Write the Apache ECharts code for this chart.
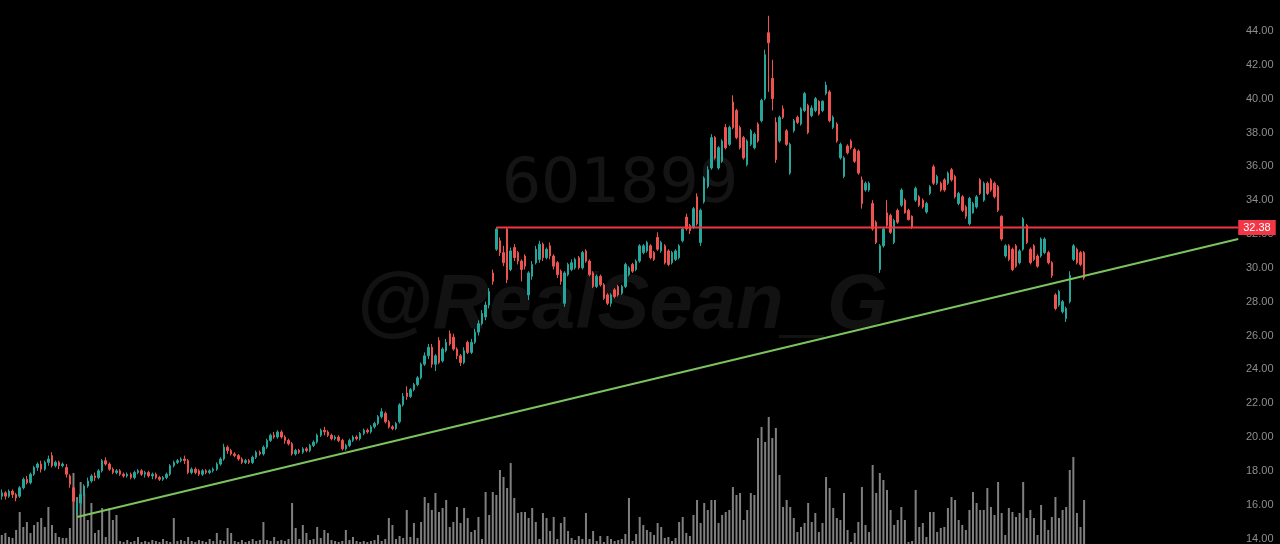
<!DOCTYPE html>
<html>
<head>
<meta charset="utf-8">
<script src="https://cdn.jsdelivr.net/npm/echarts@6/dist/echarts.min.js"></script>
<style>
html,body{margin:0;padding:0;background:#000;}
#c{width:1280px;height:544px;}
</style>
</head>
<body>
<div id="c"></div>
<script>
// ---- Data (601899 daily candles) ----
const opens = [
16.5,16.7,16.5,16.8,16.6,16.5,17.0,17.5,17.3,17.8,
18.2,18.4,18.1,18.5,18.9,18.3,18.5,18.3,18.2,17.7,
17.0,15.6,16.1,16.6,17.1,17.4,17.7,17.6,18.0,18.6,
18.4,18.1,17.9,18.0,17.8,17.7,17.8,17.6,17.9,18.0,
17.8,17.9,17.7,17.8,17.6,17.5,17.6,17.8,18.3,18.5,
18.6,18.7,18.6,17.9,18.1,18.0,17.8,18.0,17.9,18.0,
18.1,18.4,18.7,19.4,19.2,19.0,18.9,18.7,18.5,18.6,
18.5,18.8,19.1,19.0,19.4,19.8,20.1,20.0,20.3,20.0,
19.8,19.6,19.0,19.2,19.1,19.3,19.2,19.5,19.7,20.1,
20.4,20.3,20.1,19.9,20.0,19.8,19.3,19.5,19.8,20.0,
19.9,20.2,20.4,20.3,20.6,20.8,21.2,21.4,20.9,20.6,
20.5,20.9,21.9,22.6,22.4,22.8,23.1,23.5,24.3,24.8,
25.3,24.3,25.7,24.5,25.1,26.1,25.9,25.2,24.8,24.4,
25.6,25.0,25.6,26.2,26.7,27.1,27.8,29.7,31.1,31.6,
30.9,32.3,29.9,31.2,30.9,30.4,30.7,28.4,29.5,30.3,
30.5,31.4,30.6,31.3,30.7,30.3,29.8,27.9,29.6,29.9,
30.0,30.6,30.0,31.0,30.4,29.7,28.9,29.5,29.0,28.4,
27.9,28.7,28.9,28.5,28.9,29.6,30.2,29.9,30.4,30.9,
31.0,31.3,30.9,31.8,31.0,31.3,31.0,30.3,30.5,30.6,
31.6,33.0,32.5,32.4,34.2,31.5,33.9,34.8,35.9,37.7,
35.9,36.3,38.3,37.3,39.8,39.3,38.3,37.7,36.1,37.3,
37.1,38.5,38.7,40.0,43.9,41.2,38.6,37.5,39.4,38.1,
35.6,38.1,38.9,38.5,39.3,39.6,39.0,39.3,39.85,39.3,
40.3,40.4,38.3,38.5,36.5,35.4,37.2,37.5,37.0,36.9,
35.2,34.6,34.6,33.8,32.7,29.9,31.3,33.25,33.1,31.5,
33.4,33.7,34.0,33.4,33.05,34.0,34.2,34.0,33.3,34.4,
35.97,35.0,35.0,35.2,35.0,35.8,35.4,33.8,34.2,33.6,
32.6,33.25,33.6,35.2,34.0,35.0,35.2,35.0,34.8,33.05,
30.7,31.3,31.1,31.3,30.3,31.1,32.5,31.1,31.3,30.7,
30.7,30.9,30.9,30.3,28.4,27.8,27.4,27.0,28.0,30.5,
31.1,30.9,30.9
];
const closes = [
16.7,16.5,16.8,16.6,16.4,17.0,17.5,17.3,17.8,18.2,
18.4,18.1,18.5,18.7,18.3,18.5,18.3,18.4,17.8,17.2,
16.2,16.1,16.6,17.1,17.4,17.7,17.6,18.0,18.6,18.4,
18.1,17.9,18.0,17.8,17.7,17.8,17.6,17.9,18.0,17.8,
17.9,17.7,17.8,17.6,17.5,17.6,17.8,18.3,18.5,18.6,
18.7,18.6,17.9,18.1,17.9,17.8,18.0,17.9,18.0,18.1,
18.4,18.7,19.4,19.2,19.0,18.9,18.7,18.5,18.6,18.5,
18.8,19.1,19.0,19.4,19.8,20.1,20.0,20.3,20.0,19.8,
19.6,19.0,19.2,19.1,19.3,19.2,19.5,19.7,20.1,20.4,
20.3,20.1,19.9,20.0,19.8,19.3,19.5,19.8,20.0,19.9,
20.2,20.4,20.3,20.6,20.8,21.2,21.5,20.9,20.6,20.5,
20.8,21.9,22.4,22.4,22.8,23.1,23.5,24.3,24.8,25.3,
24.3,24.8,24.4,25.2,25.6,25.5,25.2,24.8,24.4,25.1,
25.0,25.6,26.2,26.7,27.3,27.8,28.6,29.2,32.3,30.9,
30.3,29.3,31.0,30.6,30.4,29.9,30.1,29.7,30.2,31.1,
31.4,30.6,31.1,30.7,30.1,29.6,29.2,29.7,30.2,30.3,
30.5,30.0,30.9,30.4,29.6,28.9,29.5,29.0,28.2,27.9,
28.4,28.3,28.4,28.9,30.2,30.0,29.8,30.4,31.3,31.3,
31.5,30.6,30.5,31.1,31.5,30.3,30.2,30.9,31.0,31.3,
32.3,32.3,32.2,33.5,32.6,33.4,35.3,35.8,37.7,36.5,
37.1,37.5,37.1,38.3,38.3,37.7,37.1,36.5,37.5,38.1,
37.9,37.5,39.9,42.6,43.3,40.0,36.4,38.9,38.9,37.3,
37.3,38.7,38.6,39.4,40.3,38.0,39.45,40.0,39.1,39.85,
40.8,38.7,38.9,37.5,37.3,36.5,36.8,37.1,36.3,35.6,
33.8,35.0,35.0,32.3,31.5,31.3,32.3,32.5,32.1,32.8,
32.7,34.6,33.25,32.85,32.4,34.7,33.7,33.6,33.8,34.8,
35.0,35.4,34.6,34.6,35.6,35.2,34.2,34.4,33.4,33.05,
34.1,33.8,34.2,34.4,35.0,34.4,34.6,34.2,33.4,31.7,
31.3,30.5,29.9,30.1,31.0,32.9,31.5,30.3,30.5,30.1,
31.7,31.7,30.3,29.55,27.6,28.6,28.0,27.6,29.55,31.3,
30.3,30.2,29.4
];
const lows = [
16.3,16.3,16.4,16.4,16.2,16.4,16.9,17.2,17.2,17.7,
18.0,17.9,18.0,18.3,18.2,18.2,18.1,18.2,17.6,17.0,
15.9,15.3,15.9,16.5,17.0,17.3,17.4,17.5,17.9,18.3,
18.0,17.8,17.8,17.7,17.6,17.6,17.5,17.5,17.8,17.7,
17.6,17.6,17.5,17.5,17.4,17.4,17.5,17.7,18.2,18.4,
18.5,18.4,17.8,17.8,17.8,17.7,17.7,17.8,17.8,17.9,
18.0,18.3,18.6,19.0,18.9,18.8,18.6,18.4,18.4,18.4,
18.4,18.7,18.9,18.9,19.3,19.7,19.9,19.9,19.9,19.6,
19.5,18.9,18.9,19.0,19.0,19.1,19.1,19.4,19.6,20.0,
20.1,20.0,19.8,19.8,19.7,19.2,19.2,19.4,19.7,19.8,
19.8,20.1,20.2,20.2,20.5,20.7,21.1,20.8,20.5,20.4,
20.4,20.8,21.8,22.2,22.3,22.7,23.0,23.4,24.2,24.6,
24.1,23.9,24.3,24.4,25.0,25.4,25.1,24.6,24.2,24.3,
24.9,24.9,25.5,26.0,26.6,26.9,27.6,29.0,31.0,30.7,
30.1,29.1,29.8,30.4,30.2,29.2,29.9,28.1,29.3,30.2,
30.3,30.4,30.5,30.5,29.9,29.4,29.0,27.7,29.5,29.8,
29.9,29.9,29.9,30.3,29.5,28.8,28.8,28.9,28.1,27.8,
27.7,28.2,28.3,28.4,28.8,29.5,29.7,29.8,30.3,30.8,
30.9,30.5,30.4,31.0,30.9,30.2,30.1,30.2,30.4,30.5,
31.5,32.2,32.0,32.3,32.5,31.3,33.8,34.7,35.8,36.4,
35.8,36.2,37.0,37.2,38.2,37.6,37.0,36.4,36.0,37.2,
37.0,37.4,38.6,39.9,40.4,39.3,36.2,37.4,38.8,37.2,
35.5,38.0,38.5,38.4,39.2,37.9,38.9,39.2,39.0,39.2,
40.2,38.6,38.2,37.4,36.4,35.3,36.7,37.0,36.2,35.5,
33.5,34.5,34.5,32.2,31.4,29.7,31.2,32.4,32.0,31.4,
32.6,33.6,33.2,32.8,32.3,33.9,33.6,33.5,33.2,34.3,
34.9,34.9,34.5,34.5,34.9,35.1,34.1,33.7,33.3,32.9,
32.5,33.2,33.5,34.3,33.9,34.3,34.5,34.1,33.3,31.6,
30.6,30.4,29.8,30.0,30.2,31.0,31.4,30.2,30.4,30.0,
30.6,30.8,30.2,29.4,27.5,27.7,27.3,26.8,27.9,30.4,
30.2,30.1,29.3
];
const highs = [
16.9,16.8,16.9,16.9,16.7,17.1,17.6,17.7,17.9,18.3,
18.5,18.6,18.6,18.9,19.1,18.6,18.6,18.5,18.4,17.8,
17.1,16.3,16.8,17.2,17.6,17.8,17.9,18.1,18.7,18.8,
18.5,18.2,18.1,18.1,17.9,17.9,17.9,18.0,18.1,18.1,
18.0,18.0,17.9,17.9,17.7,17.7,17.9,18.4,18.6,18.7,
18.8,18.9,18.7,18.2,18.2,18.1,18.1,18.1,18.1,18.2,
18.5,18.8,19.6,19.5,19.3,19.1,19.0,18.8,18.7,18.7,
18.9,19.2,19.2,19.5,19.9,20.2,20.3,20.4,20.4,20.1,
19.9,19.7,19.3,19.3,19.4,19.4,19.6,19.8,20.2,20.5,
20.6,20.4,20.2,20.1,20.1,19.9,19.6,19.9,20.1,20.1,
20.3,20.5,20.5,20.7,20.9,21.3,21.7,21.5,21.0,20.7,
20.9,22.0,22.6,23.0,22.9,23.2,23.6,24.4,25.0,25.5,
25.5,24.9,25.9,25.3,25.8,26.3,26.1,25.3,24.9,25.3,
25.7,25.8,26.4,26.9,27.5,28.0,28.8,29.9,32.4,31.8,
31.3,32.4,31.2,31.4,31.0,30.5,30.8,29.8,30.4,31.3,
31.6,31.5,31.2,31.5,30.8,30.4,29.9,29.8,30.3,30.5,
30.6,30.7,31.0,31.1,30.5,29.8,29.6,29.6,29.1,28.5,
28.5,28.8,29.0,29.0,30.3,30.1,30.3,30.5,31.4,31.4,
31.6,31.4,31.0,32.1,31.6,31.4,31.1,31.0,31.1,31.4,
32.4,33.2,32.6,33.6,34.4,33.5,35.4,36.0,37.9,37.8,
37.2,37.6,38.5,38.4,40.2,39.4,38.4,37.8,37.6,38.2,
38.0,38.6,40.0,42.9,44.9,42.3,38.9,39.0,39.6,38.2,
37.4,38.8,39.0,39.5,40.4,39.7,39.6,40.1,39.9,39.9,
41.0,40.5,39.0,38.6,37.4,36.6,37.3,37.6,37.1,37.0,
35.4,35.1,35.1,34.0,32.8,31.4,32.4,34.0,33.2,32.9,
33.5,34.7,34.1,33.5,33.1,34.8,34.3,34.1,33.9,34.9,
36.1,35.5,35.1,35.3,35.7,35.9,35.5,34.5,34.3,33.7,
34.2,33.9,34.3,35.3,35.1,35.1,35.3,35.1,34.9,33.1,
31.4,31.4,31.2,31.4,31.1,33.0,32.6,31.2,31.4,30.8,
31.8,31.8,31.0,30.4,28.5,28.7,28.1,27.7,29.8,31.4,
31.2,31.0,31.0
];
const volumes = [
9,11,7,6,14,32,17,22,11,19,
22,26,17,37,19,11,7,6,6,16,
71,47,62,51,24,41,11,14,36,7,
36,24,29,3,2,4,2,3,7,2,
3,2,4,3,2,5,3,2,26,3,
4,3,7,3,2,4,3,2,5,3,
11,4,3,16,11,3,2,4,2,3,
5,3,4,22,4,3,7,3,4,3,
5,41,16,5,19,11,4,5,17,6,
14,11,4,3,2,3,14,4,7,3,
2,3,2,3,4,9,3,5,26,19,
5,8,6,34,7,21,6,22,47,41,
34,51,32,36,44,17,22,37,21,36,
26,12,14,27,5,52,29,52,49,74,
67,56,81,46,31,32,32,26,36,22,
5,31,26,13,27,5,21,27,13,6,
4,8,5,31,5,13,3,8,2,8,
5,3,4,5,10,46,3,10,27,19,
14,12,9,21,17,6,7,3,6,22,
27,11,8,29,44,21,41,34,44,44,
21,29,32,34,57,49,51,24,34,51,
49,106,117,102,127,106,116,69,37,44,
37,26,12,17,21,41,22,31,12,21,
67,56,36,26,24,51,14,2,11,22,
57,19,12,79,51,71,64,54,34,19,
24,37,24,2,3,54,17,21,7,32,
32,12,16,17,36,47,44,24,19,14,
34,52,41,34,34,56,37,29,62,31,
9,36,32,27,31,62,26,34,26,9,
39,24,14,27,47,26,34,37,74,87,
31,17,44
];
// Horizontal resistance level and rising trendline (category index, price)
const resistancePrice = 32.38;
const resistanceStartIndex = 138;
const trendStart = [21, 15.27];
const trendEndPrice = 31.7;
// Price axis
const priceMin = 14, priceMax = 44, priceStep = 2;
// Watermarks
const watermarkCode = '601899';
const watermarkUser = '@RealSean_G';

// ---- Chart ----
const SLOTS = 346; // candles plus empty space on the right
const categories = Array.from({length: SLOTS}, (_, i) => String(i));
const lastSlot = SLOTS - 1;
const candleData = opens.map((o, i) => [o, closes[i], lows[i], highs[i]]);

const chart = echarts.init(document.getElementById('c'), null, {renderer: 'canvas'});
chart.setOption({
  animation: false,
  backgroundColor: '#000000',
  grid: [
    {left: 0, right: 40, top: 31, height: 511},
    {left: 0, right: 40, top: 344, bottom: 0}
  ],
  xAxis: [
    {type: 'category', gridIndex: 0, data: categories, boundaryGap: true, show: false},
    {type: 'category', gridIndex: 1, data: categories, boundaryGap: true, show: false}
  ],
  yAxis: [
    {
      type: 'value', gridIndex: 0, position: 'right',
      min: priceMin, max: priceMax, interval: priceStep,
      axisLine: {show: false}, axisTick: {show: false}, splitLine: {show: false},
      axisLabel: {color: '#8e8e8e', fontSize: 11, margin: 6, fontFamily: 'Liberation Sans',
        formatter: v => v.toFixed(2)}
    },
    {type: 'value', gridIndex: 1, min: 0, max: 200, show: false}
  ],
  graphic: [
    {type: 'text', x: 620, y: 186, z: 0, silent: true,
      style: {text: watermarkCode, fontSize: 62, fontFamily: 'DejaVu Sans', fill: '#141414',
        align: 'center', verticalAlign: 'middle'}},
    {type: 'text', x: 622, y: 306, z: 0, silent: true,
      style: {text: watermarkUser, fontSize: 78, fontWeight: 'bold', fontStyle: 'italic',
        fontFamily: 'Liberation Sans', fill: '#121212', align: 'center', verticalAlign: 'middle'}}
  ],
  series: [
    {
      name: 'Volume', type: 'bar', xAxisIndex: 1, yAxisIndex: 1, data: volumes,
      barWidth: 2, itemStyle: {color: '#7f7f7f'}, z: 1, silent: true
    },
    {
      name: 'Price', type: 'candlestick', xAxisIndex: 0, yAxisIndex: 0, data: candleData,
      barWidth: 2, clip: false, z: 3,
      itemStyle: {color: '#26a69a', color0: '#ef5350', borderColor: '#26a69a', borderColor0: '#ef5350', borderWidth: 1}
    },
    {
      name: 'Trend', type: 'line', xAxisIndex: 0, yAxisIndex: 0,
      data: [trendStart, [lastSlot, trendEndPrice]],
      symbol: 'none', z: 4, silent: true,
      lineStyle: {color: '#7cc35f', width: 2}
    },
    {
      name: 'Resistance', type: 'line', xAxisIndex: 0, yAxisIndex: 0,
      data: [[resistanceStartIndex, resistancePrice], [lastSlot, resistancePrice]],
      symbol: 'none', z: 5, silent: true,
      lineStyle: {color: '#f23645', width: 2},
      endLabel: {show: true, formatter: resistancePrice.toFixed(2), distance: 0,
        backgroundColor: '#f23645', color: '#ffffff', fontSize: 11, fontFamily: 'Liberation Sans',
        padding: [2, 5, 2, 5]}
    }
  ]
});
</script>
</body>
</html>
